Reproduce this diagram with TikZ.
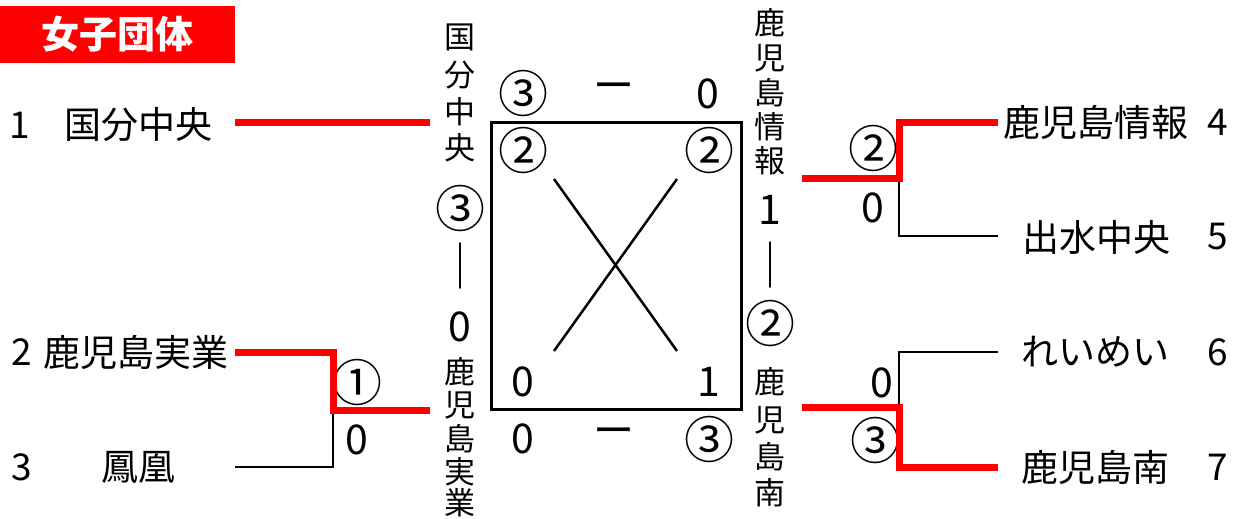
\documentclass[tikz,border=0pt]{standalone}
\usepackage{fontspec}
\setmainfont{Noto Sans CJK JP}
\usepackage{tikz}
\usetikzlibrary{positioning}
\colorlet{myred}{red}

\begin{document}
\begin{tikzpicture}[x=1pt, y=-1pt, thick,
		team/.style = {inner sep=0pt, font=\fontsize{37}{37}\selectfont},
		seed/.style = {inner sep=0pt, font=\fontsize{37}{37}\selectfont},
		vert/.style = {inner sep=0pt, font=\fontsize{31}{31}\selectfont},
		score/.style = {inner sep=0pt, font=\fontsize{41}{41}\selectfont},
		circ/.style = {inner sep=0pt, font=\fontsize{50}{50}\selectfont},
		bar/.style = {inner sep=0pt, font=\fontsize{46}{46}\selectfont},
		win/.style = {line width=7pt, color=myred},
		lose/.style = {line width=2.5pt}]
		\useasboundingbox (0,0) rectangle (1243,519);
		\node[fill=myred, text=white, minimum width=235pt, minimum height=57pt, inner sep=0pt, font=\fontsize{38}{38}\selectfont\bfseries] (title) at (117.5,34.5) {女子団体};
		\node[seed] (s1) at (20,125) {1};
		\node[seed] (s2) at (22,352) {2};
		\node[seed] (s3) at (22,467) {3};
		\node[seed] (s4) at (1218,122) {4};
		\node[seed] (s5) at (1218,237) {5};
		\node[seed] (s6) at (1218,352) {6};
		\node[seed] (s7) at (1218,467) {7};
		\node[team] (t1) at (138,125) {国分中央};
		\node[team] (t2) at (136,352) {鹿児島実業};
		\node[team] (t3) at (138,467) {鳳凰};
		\node[team] (t4) at (1096,122) {鹿児島情報};
		\node[team] (t5) at (1096,237) {出水中央};
		\node[team] (t6) at (1095,352) {れいめい};
		\node[team] (t7) at (1095,467) {鹿児島南};
		\foreach \c/\y/\s [count=\i] in {国/37/vert, 分/75/vert, 中/112/vert, 央/148/vert, ③/208/circ, ｜/266/bar, 0/327/score, 鹿/372/vert, 児/405/vert, 島/439/vert, 実/472/vert, 業/503/vert}
			\node[\s] (l\i) at (460,\y) {\c};
		\foreach \c/\y/\s [count=\i] in {鹿/23/vert, 児/58/vert, 島/93/vert, 情/127/vert, 報/161/vert, 1/210/score, ｜/265/bar, ②/323/circ, 鹿/382/vert, 児/420/vert, 島/457/vert, 南/493/vert}
			\node[\s] (r\i) at (770,\y) {\c};
		\node[draw, line width=3pt, minimum width=250pt, minimum height=287pt, inner sep=0pt] (box) at (616,265.5) {};
		\node[circ] (a1) at (523,93) {③};
		\node[score] (a2) at (614,92) {ー};
		\node[score] (a3) at (708,94) {0};
		\node[circ] (b1) at (523,150) {②};
		\node[circ] (b2) at (709,150) {②};
		\node[score] (c1) at (523,382) {0};
		\node[score] (c2) at (709,382) {1};
		\node[score] (d1) at (523,439) {0};
		\node[score] (d2) at (614,437) {ー};
		\node[circ] (d3) at (709,439) {③};
		\node[circ] (g1) at (357,382) {①};
		\node[score] (g2) at (357,440) {0};
		\node[circ] (g3) at (873,148) {②};
		\node[score] (g4) at (873,208) {0};
		\node[score] (g5) at (882,383) {0};
		\node[circ] (g6) at (875,440) {③};
		\coordinate (x1) at (554,179);
		\coordinate (x2) at (677,351);
		\coordinate (x3) at (677,179);
		\coordinate (x4) at (554,351);
		\coordinate (e1) at (235,122);
		\coordinate (e2) at (235,352);
		\coordinate (e3) at (235,467);
		\coordinate (e4) at (998,122);
		\coordinate (e5) at (998,236);
		\coordinate (e6) at (998,352);
		\coordinate (e7) at (998,467);
		\coordinate (f1) at (430,122);
		\coordinate (f2) at (430,410);
		\coordinate (f3) at (802,178);
		\coordinate (f4) at (802,407);
		\coordinate (j1) at (333,410);
		\coordinate (j2) at (899,178);
		\coordinate (j3) at (899,407);
		\draw[lose] (x1) -- (x2) (x3) -- (x4);
		\draw[lose] (j1) |- (e3)
			(j2) |- (e5)
			(j3) |- (e6);
		\draw[win] (e1) -- (f1);
		\draw[win] (e2) -| (j1) -- (f2);
		\draw[win] (f3) -- (j2) |- (e4);
		\draw[win] (f4) -- (j3) |- (e7);
	\end{tikzpicture}
\end{document}
